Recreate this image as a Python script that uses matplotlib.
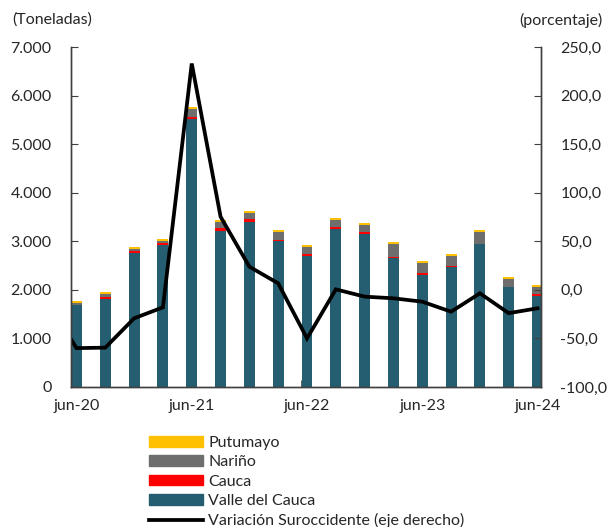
import matplotlib
matplotlib.use('Agg')
import matplotlib.pyplot as plt
import matplotlib.patches as mpatches
from matplotlib.lines import Line2D
from matplotlib.ticker import FuncFormatter, FixedLocator
import numpy as np

plt.rcParams['font.family'] = ['Lato', 'DejaVu Sans']

# quarterly data, jun-20 .. jun-24 (tonnes)
quarters = ['jun-20', 'sep-20', 'dic-20', 'mar-21', 'jun-21', 'sep-21', 'dic-21', 'mar-22',
            'jun-22', 'sep-22', 'dic-22', 'mar-23', 'jun-23', 'sep-23', 'dic-23', 'mar-24',
            'jun-24']
valle = [1680, 1810, 2750, 2920, 5510, 3210, 3400, 3000, 2700, 3245, 3150, 2660, 2300,
         2465, 2945, 2050, 1880]
cauca = [10, 45, 40, 35, 55, 55, 55, 35, 35, 40, 35, 10, 40, 35, 8, 8, 35]
narino = [40, 55, 50, 60, 165, 130, 130, 160, 140, 145, 145, 265, 220, 200, 230, 175, 145]
putumayo = [40, 45, 45, 40, 40, 40, 45, 40, 40, 40, 40, 40, 40, 40, 40, 40, 40]
# annual variation, Suroccidente (%); first value is the quarter before jun-20
variacion_prev = -12.0
variacion = [-60.0, -59.5, -29.3, -18.0, 233.0, 75.3, 23.8, 6.7, -50.0, 0.5, -7.0, -8.7,
             -12.2, -22.5, -3.6, -24.0, -19.0]
year_labels = ['jun-20', 'jun-21', 'jun-22', 'jun-23', 'jun-24']

C_VALLE = '#255E70'
C_CAUCA = '#FF0000'
C_NARINO = '#6E6E6E'
C_PUTUMAYO = '#FFC000'
AXCOL = '#404040'
TXT = '#262626'

x = np.arange(len(quarters))
fig = plt.figure(figsize=(6.08, 5.27), dpi=100)
ax = fig.add_axes([0.1168, 0.2657, 0.8898 - 0.1168, 0.9108 - 0.2657])
ax2 = ax.twinx()

w = 0.38
b1 = np.array(valle)
b2 = b1 + np.array(cauca)
b3 = b2 + np.array(narino)
ax.bar(x, valle, w, color=C_VALLE, zorder=2)
ax.bar(x, cauca, w, bottom=b1, color=C_CAUCA, zorder=2)
ax.bar(x, narino, w, bottom=b2, color=C_NARINO, zorder=2)
ax.bar(x, putumayo, w, bottom=b3, color=C_PUTUMAYO, zorder=2)

ax2.plot(np.concatenate([[-1], x]), [variacion_prev] + variacion, color='black',
         lw=2.7, solid_joinstyle='miter')

ax.set_xlim(-0.19, 16.12)
ax.set_ylim(0, 7000)
ax2.set_ylim(-100, 250)
ax.set_yticks(np.arange(0, 7001, 1000))
ax2.set_yticks(np.arange(-100, 251, 50))
ax.yaxis.set_major_formatter(FuncFormatter(lambda v, p: f'{int(v):,}'.replace(',', '.')))
ax2.yaxis.set_major_formatter(FuncFormatter(lambda v, p: f'{v:.1f}'.replace('.', ',')))

ax.set_xticks(x[::4])
ax.set_xticklabels(year_labels)
ax.xaxis.set_minor_locator(FixedLocator(x[::4] - 0.2))
ax.tick_params(axis='x', which='major', length=0, pad=9, labelsize=11.5, labelcolor=TXT)
ax.tick_params(axis='x', which='minor', direction='in', length=5, color=AXCOL)
ax.tick_params(axis='y', direction='in', length=5, pad=14, labelsize=11.5,
               labelcolor=TXT, color=AXCOL)
ax2.tick_params(axis='y', direction='in', length=5, pad=14, labelsize=11.5,
                labelcolor=TXT, color=AXCOL)

for a in (ax, ax2):
    a.spines['top'].set_visible(False)
    for s in ('left', 'right', 'bottom'):
        a.spines[s].set_color(AXCOL)
        a.spines[s].set_linewidth(1.0)

fig.text(12 / 608, 1 - 20 / 527, '(Toneladas)', ha='left', va='center',
         fontsize=11.5, color=TXT)
fig.text(602 / 608, 1 - 20 / 527, '(porcentaje)', ha='right', va='center',
         fontsize=11.5, color=TXT)

handles = [
    mpatches.Patch(color=C_PUTUMAYO, label='Putumayo'),
    mpatches.Patch(color=C_NARINO, label='Nariño'),
    mpatches.Patch(color=C_CAUCA, label='Cauca'),
    mpatches.Patch(color=C_VALLE, label='Valle del Cauca'),
    Line2D([], [], color='black', lw=2.7, label='Variación Suroccidente (eje derecho)'),
]
fig.legend(handles=handles, loc='upper left', bbox_to_anchor=(141 / 608, 1 - 428 / 527),
           frameon=False, fontsize=11.5, handlelength=3.4, handleheight=0.65,
           handletextpad=0.3, labelspacing=0.33, borderpad=0, labelcolor=TXT)

fig.savefig('out.png', dpi=100)
